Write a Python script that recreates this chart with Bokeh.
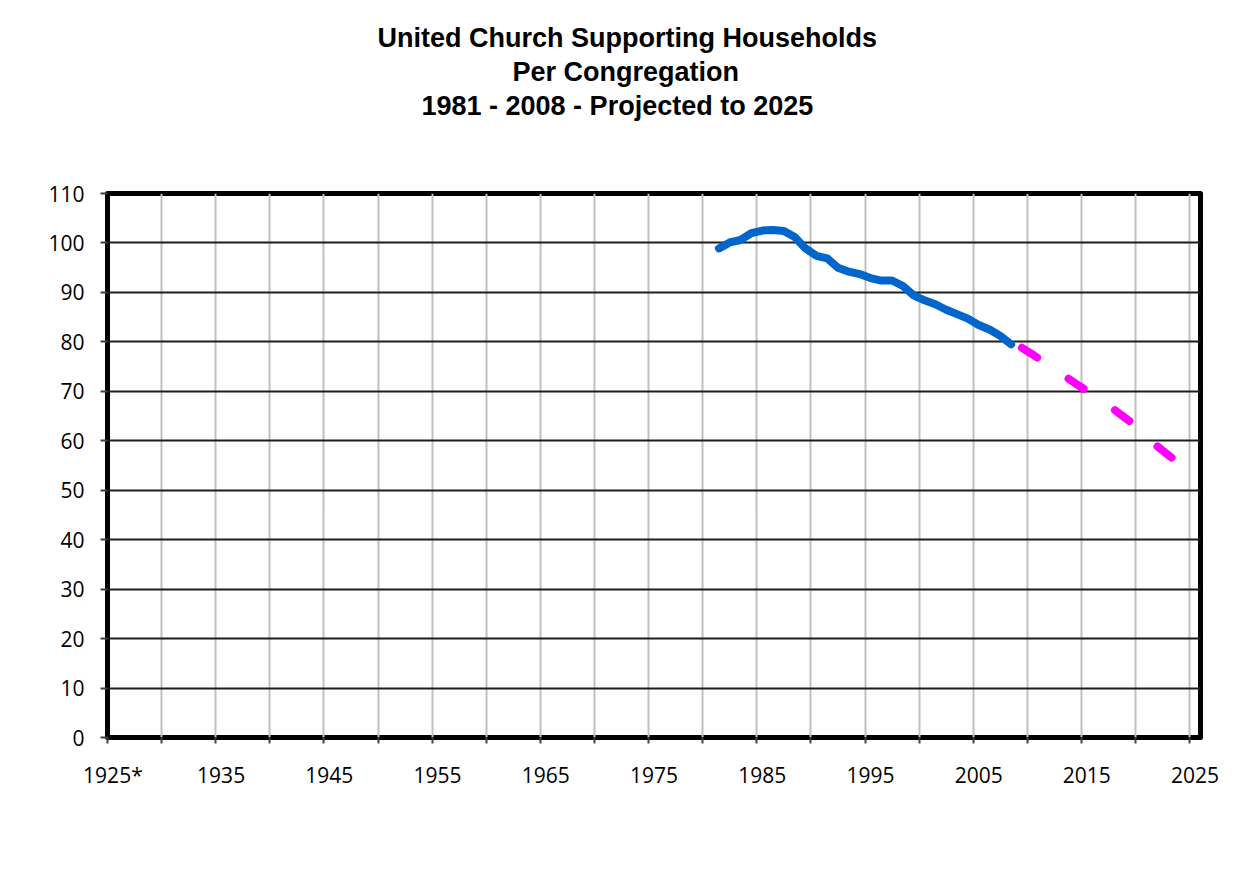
from bokeh.plotting import figure
from bokeh.models import Range1d, FixedTicker, Title
from bokeh.embed import file_html
from bokeh.resources import INLINE

# ---- data ----
actual_years = list(range(1981, 2009))
actual_values = [98.9, 100.1, 100.6, 102.0, 102.5, 102.6, 102.4, 101.2, 98.9, 97.4,
                 96.9, 95.0, 94.2, 93.7, 92.9, 92.4, 92.4, 91.3, 89.4, 88.4,
                 87.6, 86.5, 85.6, 84.7, 83.4, 82.5, 81.2, 79.5]
proj_years = list(range(2009, 2026))
proj_values = [78.8, 77.4, 76.0, 74.5, 73.0, 71.5, 70.1, 68.6, 67.2, 65.5,
               63.9, 62.0, 59.8, 58.0, 56.3, 54.5, 52.7]
x_label_years = [1925, 1935, 1945, 1955, 1965, 1975, 1985, 1995, 2005, 2015, 2025]
x_label_text = {1925: "1925*"}
y_ticks = list(range(0, 111, 10))
title_lines = ["United Church Supporting Households", "Per Congregation",
               "1981 - 2008 - Projected to 2025"]
title_offsets = [270, 405, 314]   # horizontal placement of each title line

first_year, last_year = 1925, 2025
grid_positions = [first_year - 0.5 + 5 * k for k in range(21)]

p = figure(width=1249, height=875, output_backend="svg", toolbar_location=None,
           x_range=Range1d(first_year - 0.5, last_year + 0.5), y_range=Range1d(0, 110),
           min_border_left=107, min_border_right=49, min_border_top=193, min_border_bottom=138)
p.background_fill_color = "white"
p.border_fill_color = "white"
p.outline_line_color = "black"
p.outline_line_width = 5
p.outline_line_join = "round"

# spacer between the plot frame and the title block
p.add_layout(Title(text=" ", text_font_size="1px", standoff=69), "above")
# title lines (bottom line first; later ones stack above)
for txt, off in zip(reversed(title_lines), reversed(title_offsets)):
    p.add_layout(Title(text=txt, align="left", offset=off,
                       text_font="Liberation Sans", text_font_style="bold",
                       text_font_size="27px", text_color="black",
                       standoff=2), "above")

# x axis
xt = FixedTicker(ticks=x_label_years, minor_ticks=grid_positions)
p.xaxis.ticker = xt
p.xaxis.major_label_overrides = {k: v for k, v in x_label_text.items()}
p.xaxis.major_tick_line_color = None
p.xaxis.minor_tick_line_color = "#404040"
p.xaxis.minor_tick_line_width = 2
p.xaxis.minor_tick_out = 6
p.xaxis.minor_tick_in = 0
p.xaxis.axis_line_color = None
p.xaxis.major_label_standoff = 17
p.xaxis.major_label_text_font = "Open Sans"
p.xaxis.major_label_text_font_size = "21px"
p.xaxis.major_label_text_color = "black"

# y axis
p.yaxis.ticker = FixedTicker(ticks=y_ticks, minor_ticks=[])
p.yaxis.major_tick_line_color = "#404040"
p.yaxis.major_tick_line_width = 2
p.yaxis.major_tick_out = 7
p.yaxis.major_tick_in = 0
p.yaxis.minor_tick_line_color = None
p.yaxis.axis_line_color = None
p.yaxis.major_label_standoff = 16
p.yaxis.major_label_text_font = "Open Sans"
p.yaxis.major_label_text_font_size = "21px"
p.yaxis.major_label_text_color = "black"

# grids
p.xgrid.ticker = FixedTicker(ticks=grid_positions)
p.xgrid.grid_line_color = "#c0c0c0"
p.xgrid.grid_line_width = 2
p.ygrid.ticker = FixedTicker(ticks=y_ticks)
p.ygrid.grid_line_color = "#1e1e1e"
p.ygrid.grid_line_width = 2

# series
p.line(actual_years, actual_values, line_color="#0066cc", line_width=8,
       line_cap="round", line_join="round")
p.line(proj_years, proj_values, line_color="#ff00ff", line_width=8,
       line_cap="round", line_join="round", line_dash="18 38")

open("out.html", "w").write(file_html(p, INLINE))
